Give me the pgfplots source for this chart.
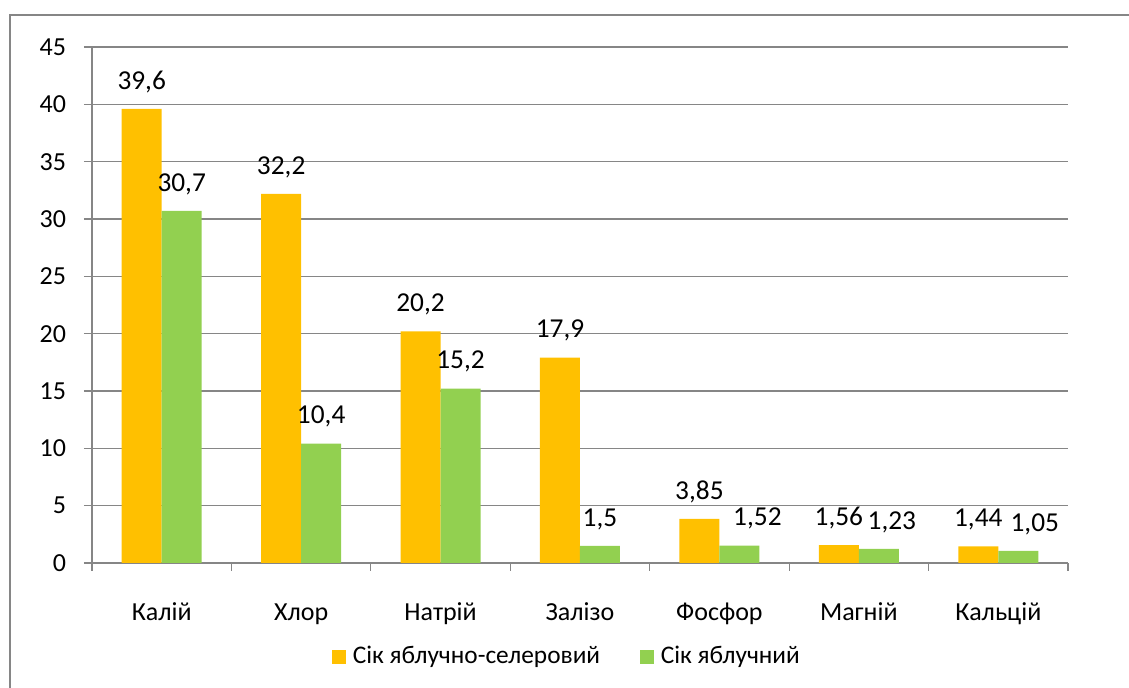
\documentclass[border=0pt]{standalone}
\usepackage{fontspec}
\setmainfont{Carlito}
\usepackage{pgfplots}
\usepackage{pgfplotstable}
\pgfplotsset{compat=1.18}
\definecolor{cOrange}{HTML}{FFC000}
\definecolor{cGreen}{HTML}{92D050}
\definecolor{cGrid}{HTML}{868686}
\pgfplotstableread{
x y dx
0 39.6 0
1 32.2 0
2 20.2 0
3 17.9 0
4 3.85 0
5 1.56 0
6 1.44 0
}\tabA
\pgfplotstableread{
x y dx
0 30.7 0
1 10.4 0
2 15.2 0
3 1.5 0
4 1.52 13.5
5 1.23 9.75
6 1.05 12.4
}\tabB
\begin{document}
\fontsize{19}{23}\selectfont
\begin{tikzpicture}[x=0.75pt,y=0.75pt]
\useasboundingbox (0,0) rectangle (1129,688);
\draw[cGrid, line width=1.5pt] (10,0) -- (10,673) -- (1129,673);
\begin{axis}[
  at={(69pt,93.75pt)}, anchor=south west,
  scale only axis, width=732pt, height=387pt,
  xmin=-0.5, xmax=6.5, ymin=0, ymax=45,
  ytick={0,5,...,45},
  xtick={0,...,6},
  xticklabels={Калій,Хлор,Натрій,Залізо,Фосфор,Магній,Кальцій},
  minor xtick={-0.5,0.5,...,6.5},
  axis x line*=bottom, axis y line*=left,
  axis line style={cGrid, line width=0.9pt},
  ymajorgrids, grid style={cGrid, line width=0.9pt},
  major x tick style={draw=none},
  minor x tick style={cGrid, line width=0.9pt},
  major y tick style={cGrid, line width=0.9pt},
  tick align=outside,
  major tick length=6pt, minor tick length=6pt,
  /pgf/number format/assume math mode=true,
  /pgf/number format/use comma,
  tick label style={font=\fontsize{19.5}{23}\selectfont},
  yticklabel style={xshift=-7pt},
  xticklabel style={anchor=base, yshift=-37.5pt},
  ybar, bar width=30pt,
  visualization depends on={\thisrow{dx} \as \dx},
  nodes near coords,
  every node near coord/.append style={font=\fontsize{20.5}{24}\selectfont, inner sep=0pt, yshift=12pt, xshift=\dx pt, anchor=south},
  legend columns=2,
  legend style={at={(0.487,-0.182)}, anchor=center, draw=none, fill=none,
     font=\fontsize{19}{23}\selectfont,
     /tikz/every even column/.append style={column sep=28pt},
     /tikz/every odd column/.append style={column sep=0pt}},
  legend image code/.code={\fill[#1] (0pt,-5.25pt) rectangle (10.5pt,5.25pt);},
  clip=false,
]
\addplot[fill=cOrange, draw=none, bar shift=-15pt] table[x=x,y=y] {\tabA};
\addplot[fill=cGreen, draw=none, bar shift=15pt] table[x=x,y=y] {\tabB};
\legend{\hspace{3pt}Сік яблучно-селеровий, \hspace{3pt}Сік яблучний}
\end{axis}
\end{tikzpicture}
\end{document}
